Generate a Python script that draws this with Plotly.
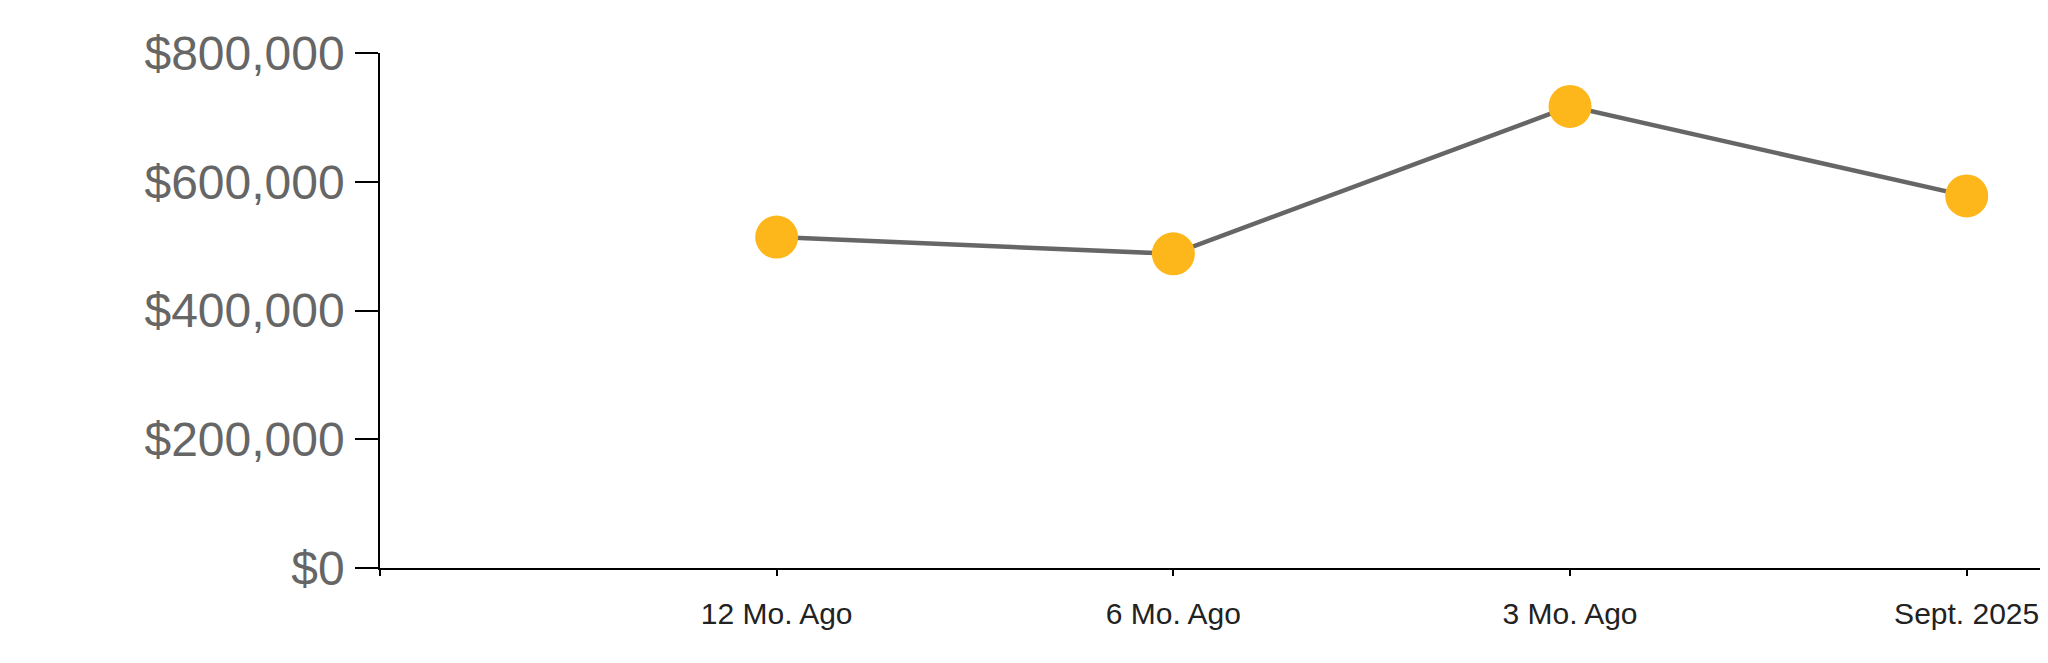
import plotly.graph_objects as go

categories = ["12 Mo. Ago", "6 Mo. Ago", "3 Mo. Ago", "Sept. 2025"]
values = [514000, 488000, 717000, 578000]
y_ticks = [0, 200000, 400000, 600000, 800000]
y_tick_labels = ["$0", "$200,000", "$400,000", "$600,000", "$800,000"]

x_pos = list(range(1, len(categories) + 1))

fig = go.Figure()
fig.add_trace(go.Scatter(
    x=x_pos, y=values, mode="lines+markers",
    line=dict(color="#666666", width=4.5),
    marker=dict(color="#FDB71B", size=43, line=dict(width=0)),
    hoverinfo="skip",
))

# page body has an 8px default margin; compensate so the plot sits where the reference does
fig.update_layout(
    width=2040, height=655,
    margin=dict(l=372, r=0, t=45, b=95, pad=0),
    paper_bgcolor="white", plot_bgcolor="white",
    showlegend=False,
    font=dict(family="Arial, Liberation Sans, sans-serif"),
)
fig.update_xaxes(
    range=[0, 4.205],
    tickmode="array",
    tickvals=[0] + x_pos,
    ticktext=[""] + categories,
    showgrid=False, zeroline=False,
    showline=True, linecolor="black", linewidth=1.5,
    ticks="outside", ticklen=6, tickcolor="black", tickwidth=1.5,
    tickfont=dict(size=30, color="#222222"),
    ticklabelstandoff=12,
)
fig.update_yaxes(
    range=[0, 800000],
    tickmode="array",
    tickvals=y_ticks,
    ticktext=y_tick_labels,
    showgrid=False, zeroline=False,
    showline=True, linecolor="black", linewidth=1.5,
    ticks="outside", ticklen=23, tickcolor="black", tickwidth=1.5,
    tickfont=dict(size=48, color="#666666"),
    ticklabelstandoff=1,
)

fig.write_html("out.html")
